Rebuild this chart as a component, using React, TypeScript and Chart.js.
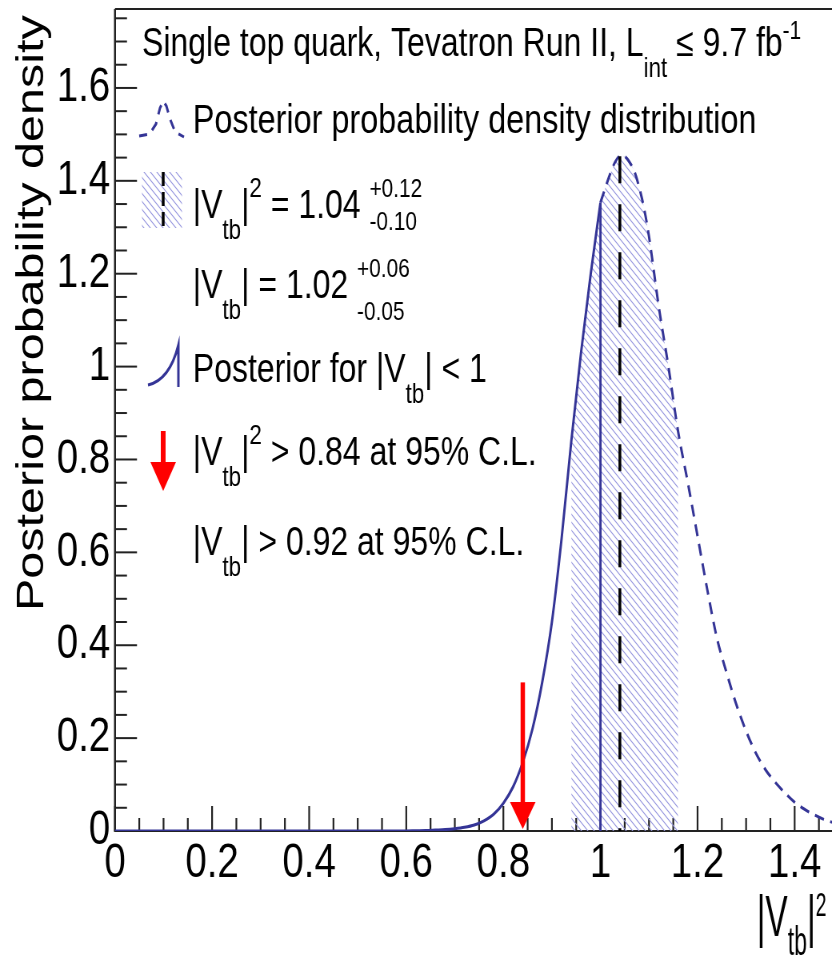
import React, { useEffect, useRef } from 'react';
import { Chart, registerables } from 'chart.js';
Chart.register(...registerables);

const FONT = '"Liberation Sans", Arial, Helvetica, sans-serif';

// Posterior density for |Vtb|^2 < 1 (solid)
const solidX = [0, 0.2, 0.4, 0.6, 0.62, 0.64, 0.66, 0.68, 0.70, 0.72, 0.74, 0.76, 0.78, 0.80, 0.82, 0.84, 0.86, 0.88, 0.90, 0.92, 0.94, 0.96, 0.98, 1.00];
const solidY = [0, 0, 0, 0, 0.0005, 0.001, 0.002, 0.003, 0.005, 0.008, 0.013, 0.022, 0.036, 0.06, 0.095, 0.148, 0.22, 0.32, 0.45, 0.63, 0.84, 1.03, 1.2, 1.353];
// Full posterior above 1 (dashed)
const dashX = [1.00, 1.01, 1.02, 1.03, 1.04, 1.05, 1.06, 1.07, 1.08, 1.09, 1.10, 1.12, 1.14, 1.16, 1.18, 1.20, 1.22, 1.24, 1.26, 1.28, 1.30, 1.32, 1.34, 1.36, 1.38, 1.40, 1.42, 1.44, 1.46, 1.48, 1.50];
const dashY = [1.353, 1.385, 1.415, 1.44, 1.453, 1.452, 1.44, 1.42, 1.385, 1.34, 1.28, 1.13, 1.0, 0.86, 0.75, 0.635, 0.52, 0.415, 0.34, 0.272, 0.215, 0.168, 0.132, 0.105, 0.082, 0.062, 0.047, 0.035, 0.025, 0.018, 0.013];

const bestFit = 1.04;
const bestFitDensity = 1.453;
const bandLow = 0.94;
const bandHigh = 1.16;
const physBound = 1.0;
const physBoundDensity = 1.353;
const limit95 = 0.84;
const limitArrowTop = 0.32;

const xTickValues = [0, 0.2, 0.4, 0.6, 0.8, 1.0, 1.2, 1.4];
const yTickValues = [0, 0.2, 0.4, 0.6, 0.8, 1.0, 1.2, 1.4, 1.6];
const X_MIN = 0, X_MAX = 1.5, Y_MIN = 0, Y_MAX = 1.77;
const MINOR_STEP = 0.05;

const BLUE = 'rgb(52,52,150)';
const HATCH = 'rgb(150,150,222)';

const W = 1054, H = 955, SX = 0.8;

type Part = [string, number, number];

function rich(ctx: CanvasRenderingContext2D, x: number, y: number, parts: (Part | Part[])[]) {
  ctx.textAlign = 'left';
  ctx.textBaseline = 'alphabetic';
  for (const p of parts) {
    if (Array.isArray(p[0])) {
      let w = 0;
      for (const q of p as Part[]) {
        ctx.font = `${q[1]}px ${FONT}`;
        ctx.fillText(q[0], x, y + q[2]);
        w = Math.max(w, ctx.measureText(q[0]).width);
      }
      x += w;
    } else {
      const q = p as Part;
      ctx.font = `${q[1]}px ${FONT}`;
      ctx.fillText(q[0], x, y + q[2]);
      x += ctx.measureText(q[0]).width;
    }
  }
}

function makeHatch(): CanvasPattern | string {
  const s = 8;
  const c = document.createElement('canvas');
  c.width = s; c.height = s;
  const g = c.getContext('2d');
  if (!g) return HATCH;
  g.strokeStyle = HATCH;
  g.lineWidth = 1.1;
  g.beginPath();
  g.moveTo(-1, -1); g.lineTo(s + 1, s + 1);
  g.moveTo(s - 1, -1); g.lineTo(s + 1, 1);
  g.moveTo(-1, s - 1); g.lineTo(1, s + 1);
  g.stroke();
  return g.createPattern(c, 'repeat') || HATCH;
}

function drawArrow(ctx: CanvasRenderingContext2D, x: number, top: number, tip: number, headH: number, headW: number, shaftW: number) {
  ctx.fillStyle = '#ff0000';
  ctx.fillRect(x - shaftW / 2, top, shaftW, tip - headH - top + 1);
  ctx.beginPath();
  ctx.moveTo(x - headW / 2, tip - headH);
  ctx.lineTo(x + headW / 2, tip - headH);
  ctx.lineTo(x, tip);
  ctx.closePath();
  ctx.fill();
}

const framePlugin = {
  id: 'frame',
  beforeDatasetsDraw(chart: any) {
    const { ctx, chartArea: a, scales } = chart;
    const xs = scales.x, ys = scales.y;
    ctx.save();
    ctx.strokeStyle = '#222';
    ctx.lineWidth = 2.5;
    ctx.beginPath(); ctx.moveTo(a.left, a.bottom + 1); ctx.lineTo(a.left, a.top); ctx.stroke();
    ctx.lineWidth = 2;
    ctx.beginPath();
    ctx.moveTo(a.left, a.top); ctx.lineTo(a.right, a.top); ctx.lineTo(a.right, a.bottom); ctx.lineTo(a.left, a.bottom);
    ctx.stroke();
    // x ticks (inside, upward)
    ctx.lineWidth = 2.2;
    for (let i = 0; X_MIN + i * MINOR_STEP <= X_MAX + 1e-9; i++) {
      const v = X_MIN + i * MINOR_STEP;
      const len = i % 4 === 0 ? 25 : 13;
      const px = xs.getPixelForValue(v);
      ctx.beginPath(); ctx.moveTo(px, a.bottom); ctx.lineTo(px, a.bottom - len); ctx.stroke();
    }
    // y ticks (inside, rightward)
    ctx.lineWidth = 2;
    for (let i = 0; Y_MIN + i * MINOR_STEP <= Y_MAX + 1e-9; i++) {
      const v = Y_MIN + i * MINOR_STEP;
      const len = i % 4 === 0 ? 27.5 : 15;
      const py = ys.getPixelForValue(v);
      ctx.beginPath(); ctx.moveTo(a.left, py); ctx.lineTo(a.left + len, py); ctx.stroke();
    }
    ctx.restore();
  },
};

const overlayPlugin = {
  id: 'overlay',
  afterDraw(chart: any) {
    const { ctx, scales } = chart;
    const xs = scales.x, ys = scales.y;
    ctx.save();

    // limit arrow
    drawArrow(ctx, xs.getPixelForValue(limit95), ys.getPixelForValue(limitArrowTop), ys.getPixelForValue(0) - 2, 27, 32, 5.5);

    // y-axis title
    ctx.save();
    ctx.translate(54, 611);
    ctx.rotate(-Math.PI / 2);
    ctx.fillStyle = '#000';
    ctx.font = `48.5px ${FONT}`;
    ctx.textAlign = 'left';
    ctx.textBaseline = 'alphabetic';
    ctx.fillText('Posterior probability density', 0, 0);
    ctx.restore();

    // x-axis title
    ctx.save();
    ctx.translate(946, 936);
    ctx.scale(0.72, 1);
    ctx.fillStyle = '#000';
    rich(ctx, 0, 0, [['|V', 58, 0], ['tb', 40, 19], ['|', 58, 0], ['2', 34, -20]]);
    ctx.restore();

    // legend texts
    ctx.fillStyle = '#000';
    rich(ctx, 177.5, 56, [['Single top quark, Tevatron Run II, L', 40, 0], ['int', 28, 21], [' \u2264 9.7 fb', 40, 0], ['-1', 26, -17]]);
    rich(ctx, 241, 133, [['Posterior probability density distribution', 40.5, 0]]);
    rich(ctx, 241, 218, [['|V', 40, 0], ['tb', 28, 21], ['|', 40, 0], ['2', 28, -21], [' = 1.04 ', 40, 0], [['+0.12', 26, -21], ['-0.10', 26, 12]]]);
    rich(ctx, 241, 298, [['|V', 40, 0], ['tb', 28, 21], ['| = 1.02 ', 40, 0], [['+0.06', 26, -21], ['-0.05', 26, 22]]]);
    rich(ctx, 241, 382, [['Posterior for |V', 40, 0], ['tb', 28, 21], ['| < 1', 40, 0]]);
    rich(ctx, 241, 465, [['|V', 40, 0], ['tb', 28, 21], ['|', 40, 0], ['2', 28, -21], [' > 0.84 at 95% C.L.', 40, 0]]);
    rich(ctx, 241, 555, [['|V', 40, 0], ['tb', 28, 21], ['| > 0.92 at 95% C.L.', 40, 0]]);

    // legend sample: dashed posterior
    ctx.strokeStyle = BLUE;
    ctx.lineWidth = 3;
    ctx.setLineDash([10, 8]);
    ctx.beginPath();
    const s1 = [[174, 136], [187, 134], [195, 124], [200, 108], [204, 101], [208, 106], [213, 120], [219, 132], [230, 137]];
    s1.forEach((p, i) => (i ? ctx.lineTo(p[0], p[1]) : ctx.moveTo(p[0], p[1])));
    ctx.stroke();

    // legend sample: hatched band + dashed black line
    ctx.setLineDash([]);
    ctx.fillStyle = chart.$hatch;
    ctx.fillRect(177.5, 172, 50, 56);
    ctx.strokeStyle = '#000';
    ctx.lineWidth = 3.5;
    ctx.setLineDash([14, 6]);
    ctx.beginPath(); ctx.moveTo(204, 172); ctx.lineTo(204, 228); ctx.stroke();
    ctx.setLineDash([]);

    // legend sample: solid truncated posterior
    ctx.strokeStyle = BLUE;
    ctx.lineWidth = 3;
    ctx.beginPath();
    ctx.moveTo(185, 385);
    ctx.quadraticCurveTo(212, 380, 223, 345);
    ctx.lineTo(223, 387);
    ctx.stroke();

    // legend sample: red arrow
    drawArrow(ctx, 204, 431, 491, 29, 32, 6);

    ctx.restore();
  },
};

export default function App() {
  const ref = useRef<HTMLCanvasElement>(null);
  useEffect(() => {
    const canvas = ref.current;
    if (!canvas) return;
    const hatch = makeHatch();
    const solidPts = solidX.map((x, i) => ({ x, y: solidY[i] }));
    const dashPts = dashX.map((x, i) => ({ x, y: dashY[i] }));
    const allPts = [...solidPts, ...dashPts.slice(1)];
    const bandPts = allPts.filter((p) => p.x >= bandLow - 1e-9 && p.x <= bandHigh + 1e-9);
    const tickFont = { family: FONT, size: 48 };
    const chart = new Chart(canvas, {
      type: 'line',
      data: {
        datasets: [
          { data: [{ x: bestFit, y: bestFitDensity }, { x: bestFit, y: 0 }], borderColor: '#000', borderWidth: 3.5, borderDash: [27, 21], pointRadius: 0, fill: false },
          { data: solidPts, borderColor: BLUE, borderWidth: 3, pointRadius: 0, cubicInterpolationMode: 'monotone', fill: false },
          { data: [{ x: physBound, y: physBoundDensity }, { x: physBound, y: 0 }], borderColor: BLUE, borderWidth: 2.8, pointRadius: 0, fill: false },
          { data: dashPts, borderColor: BLUE, borderWidth: 3, borderDash: [12, 8], pointRadius: 0, cubicInterpolationMode: 'monotone', fill: false },
          { data: bandPts, borderWidth: 0, borderColor: 'rgba(0,0,0,0)', backgroundColor: hatch as any, pointRadius: 0, cubicInterpolationMode: 'monotone', fill: 'origin' },
        ],
      },
      options: {
        responsive: false,
        animation: false,
        devicePixelRatio: 1,
        parsing: false as any,
        layout: { padding: { top: 9, right: 0, left: 0, bottom: 0 } },
        plugins: { legend: { display: false }, tooltip: { enabled: false }, title: { display: false } },
        scales: {
          x: {
            type: 'linear', min: X_MIN, max: X_MAX,
            grid: { display: false, drawTicks: false }, border: { display: false },
            ticks: { font: tickFont, color: '#000', padding: 4, maxRotation: 0, autoSkip: false, includeBounds: false, callback: (v: any) => String(+Number(v).toFixed(2)) },
            afterBuildTicks: (s: any) => { s.ticks = xTickValues.map((v) => ({ value: v })); },
            afterFit: (s: any) => { s.height = 124; s.paddingLeft = 0; s.paddingRight = 0; },
          },
          y: {
            type: 'linear', min: Y_MIN, max: Y_MAX,
            grid: { display: false, drawTicks: false }, border: { display: false },
            ticks: { font: tickFont, color: '#000', padding: 6, autoSkip: false, includeBounds: false, callback: (v: any) => String(+Number(v).toFixed(2)) },
            afterBuildTicks: (s: any) => { s.ticks = yTickValues.map((v) => ({ value: v })); },
            afterFit: (s: any) => { s.width = 143.75; s.paddingTop = 0; s.paddingBottom = 0; },
          },
        },
      } as any,
      plugins: [framePlugin, overlayPlugin],
    });
    (chart as any).$hatch = hatch;
    chart.draw();
    return () => chart.destroy();
  }, []);
  return (
    <div style={{ position: 'absolute', left: 0, top: 0, width: 832, height: 955, overflow: 'hidden', background: '#fff' }}>
      <div style={{ width: W, height: H, transform: `scaleX(${SX})`, transformOrigin: '0 0' }}>
        <canvas ref={ref} width={W} height={H} style={{ display: 'block', width: W, height: H }} />
      </div>
    </div>
  );
}
